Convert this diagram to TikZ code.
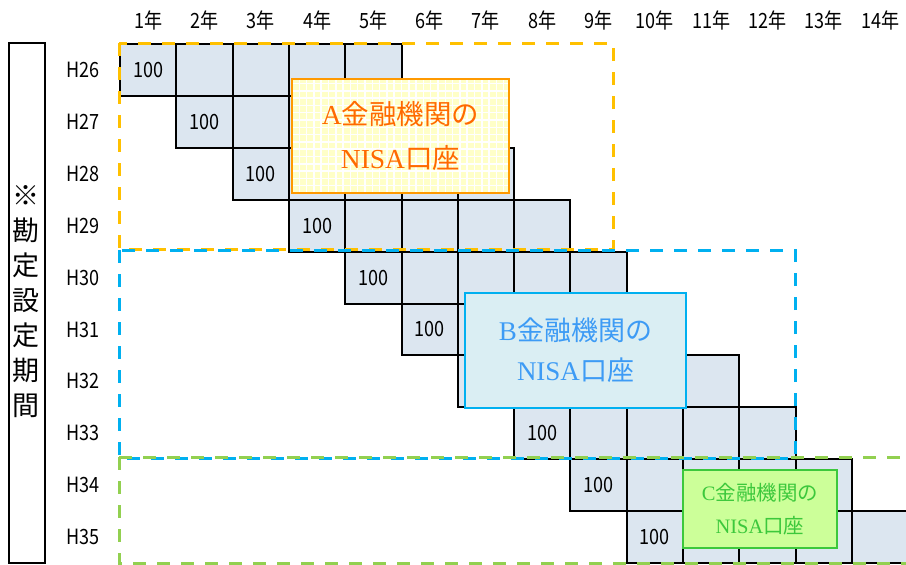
\documentclass[tikz,border=0pt]{standalone}
\usepackage{fontspec}
\setmainfont{Liberation Serif}
\newfontfamily\jp{Noto Sans CJK JP}
\newfontfamily\lab[FakeStretch=0.86]{Noto Sans CJK JP}
\definecolor{cellfill}{HTML}{DCE6F0}
\definecolor{dashorange}{HTML}{FFC000}
\definecolor{dashblue}{HTML}{00B0F0}
\definecolor{dashgreen}{HTML}{92D050}
\definecolor{aborder}{HTML}{FF9900}
\definecolor{atext}{HTML}{FF6A00}
\definecolor{afill}{HTML}{FFFFC8}
\definecolor{bborder}{HTML}{00B0F0}
\definecolor{btext}{HTML}{3D9BF5}
\definecolor{bfill}{HTML}{DAEEF3}
\definecolor{cborder}{HTML}{3CC83C}
\definecolor{ctext}{HTML}{3CC83C}
\definecolor{cfill}{HTML}{CCFF99}
\begin{document}
\begin{tikzpicture}[x=1pt,y=-1pt,
  cellbox/.style={draw=black, line width=2pt, fill=cellfill, minimum width=56.3pt, minimum height=51.9pt, inner sep=0pt, font=\lab\fontsize{21}{21}\selectfont},
  rowlab/.style={inner sep=0pt, font=\lab\fontsize{21}{21}\selectfont},
  yearlab/.style={inner sep=0pt, font=\lab\fontsize{21}{21}\selectfont},
  dashrect/.style={line width=3pt, dash pattern=on 13pt off 11pt},
  boxa/.style={draw=aborder, line width=1.8pt, fill=afill, minimum width=217pt, minimum height=114pt, inner sep=0pt, align=center, text=atext, font=\fontsize{27.5}{44}\selectfont,
    path picture={
      \foreach \i in {0,...,31} {\draw[white, line width=1.5pt] ([xshift=\i*7.3pt]path picture bounding box.north west) -- ([xshift=\i*7.3pt]path picture bounding box.south west);}
      \foreach \j in {0,...,16} {\draw[white, line width=1.5pt] ([yshift=\j*7.3pt]path picture bounding box.south west) -- ([yshift=\j*7.3pt]path picture bounding box.south east);}
    }},
  boxb/.style={draw=bborder, line width=1.8pt, fill=bfill, minimum width=221pt, minimum height=115pt, inner sep=0pt, align=center, text=btext, font=\fontsize{27}{40}\selectfont},
  boxc/.style={draw=cborder, line width=1.8pt, fill=cfill, minimum width=154pt, minimum height=78pt, inner sep=0pt, align=center, text=ctext, font=\fontsize{20.5}{33}\selectfont},
  sidebox/.style={draw=black, line width=2pt, fill=white, minimum width=36pt, minimum height=520pt, inner sep=0pt},
  sidetext/.style={inner sep=0pt, align=center, font=\jp\fontsize{27}{35}\selectfont}
]
\useasboundingbox (0,0) rectangle (906,565);
\clip (0,0) rectangle (906,565);
% year labels
\foreach \i in {1,...,14} {
  \pgfmathsetmacro\yx{120+(\i-0.5)*56.3}
  \node[yearlab] (y\i) at (\yx,20) {\i 年};
}
% side box
\node[sidebox] (side) at (27,303) {};
\node[sidetext] (sidet) at (26,301.5) {※\\勘\\定\\設\\定\\期\\間};
% row labels and cells
\foreach \r/\lbl in {0/H26,1/H27,2/H28,3/H29,4/H30,5/H31,6/H32,7/H33,8/H34,9/H35} {
  \pgfmathsetmacro\cy{44+(\r+0.5)*51.9}
  \node[rowlab] (r\r) at (83,\cy) {\lbl};
  \foreach \k in {0,...,4} {
    \pgfmathsetmacro\cx{120+(\r+\k+0.5)*56.3}
    \node[cellbox] (c\r-\k) at (\cx,\cy) {\ifnum\k=0 100\fi};
  }
}
% dashed groups
\draw[dashrect, draw=dashorange] (119,43) rectangle (613,249);
\draw[dashrect, draw=dashblue] (119,250) rectangle (795,458);
\draw[dashrect, draw=dashgreen] (119,457) -- (915,457);
\draw[dashrect, draw=dashgreen] (119,457) -- (119,563) -- (915,563);
% label boxes
\node[boxa] (ba) at (400.5,136) {A{\jp 金融機関の}\\NISA{\jp 口座}};
\node[boxb] (bb) at (575.5,350.5) {B{\jp 金融機関の}\\NISA{\jp 口座}};
\node[boxc] (bc) at (760,509) {C{\jp 金融機関の}\\NISA{\jp 口座}};
\end{tikzpicture}
\end{document}
